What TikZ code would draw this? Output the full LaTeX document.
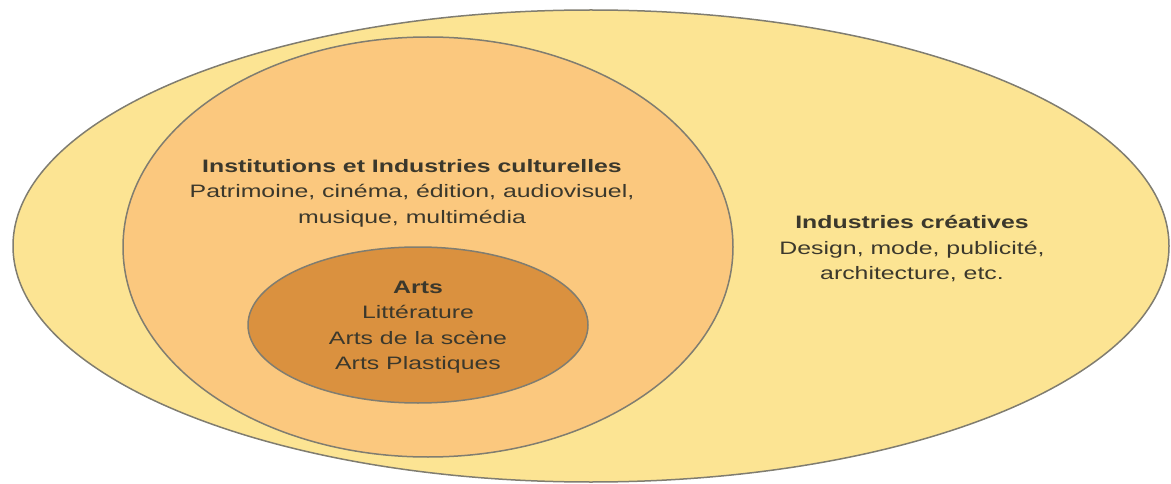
\documentclass[tikz,border=0pt]{standalone}
\usepackage{fontspec}
\setmainfont{Liberation Sans}[FakeStretch=1.38]
\definecolor{outerfill}{HTML}{FCE493}
\definecolor{midfill}{HTML}{FBC87E}
\definecolor{innerfill}{HTML}{DA913F}
\definecolor{edgegray}{HTML}{807D70}
\definecolor{txt}{HTML}{3B382C}
\tikzset{
  zone/.style={draw=edgegray, line width=1.5pt},
  lbl/.style={text=txt, align=center, font=\fontsize{18}{25.5}\selectfont, inner sep=0pt},
}
\begin{document}
\begin{tikzpicture}[x=1pt,y=-1pt]
\useasboundingbox (0,0) rectangle (1171,484);
\path[zone, fill=outerfill] (591,246) ellipse [x radius=578, y radius=236];
\path[zone, fill=midfill] (428,247) ellipse [x radius=305, y radius=210];
\path[zone, fill=innerfill] (418,325) ellipse [x radius=170, y radius=78];
\node[lbl] (culture) at (412,193) {\textbf{Institutions et Industries culturelles}\\Patrimoine, cinéma, édition, audiovisuel,\\musique, multimédia};
\node[lbl] (creative) at (912,249) {\textbf{Industries créatives}\\Design, mode, publicité,\\architecture, etc.};
\node[lbl] (arts) at (418,327) {\textbf{Arts}\\Littérature\\Arts de la scène\\Arts Plastiques};
\end{tikzpicture}
\end{document}
